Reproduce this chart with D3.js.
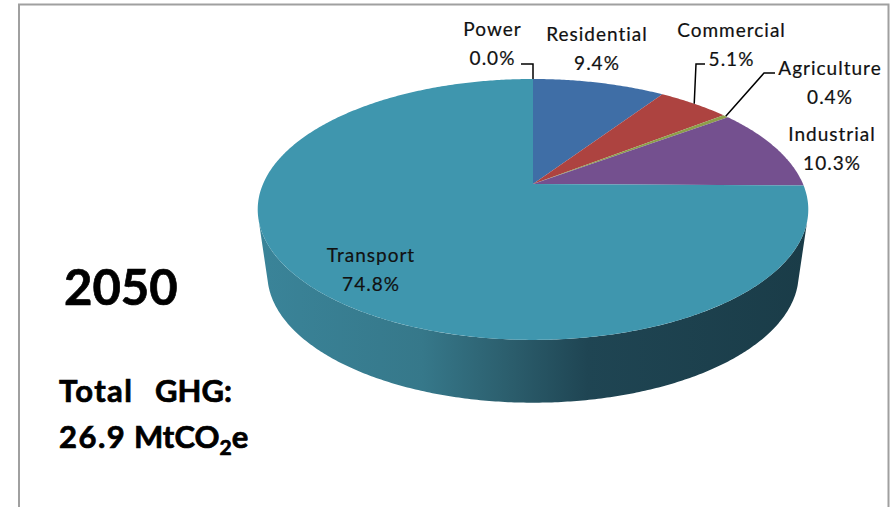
<!DOCTYPE html>
<html>
<head>
<meta charset="utf-8">
<script src="https://cdn.jsdelivr.net/npm/d3@7"></script>
<style>
  html, body { margin: 0; padding: 0; background: #fff; overflow: hidden; }
  text { font-family: Lato, "Open Sans", sans-serif; }
  .sector { fill: #111; stroke: #111; stroke-width: 0.2px; letter-spacing: 1px; }
  .headline { fill: #000; stroke: #000; stroke-width: 0.7px; font-weight: 700; }
</style>
</head>
<body>
<svg id="chart" width="894" height="507"></svg>
<script>
// GHG emissions by sector, 2050
const sectors = ["Power", "Residential", "Commercial", "Agriculture", "Industrial", "Transport"];
const shares = [0.0, 9.4, 5.1, 0.4, 10.3, 74.8];
const shareLabels = ["0.0%", "9.4%", "5.1%", "0.4%", "10.3%", "74.8%"];
const topColors = ["#3a6fa6", "#3f6ea6", "#ad4340", "#8d9f4a", "#74508f", "#3f96ae"];
const yearLabel = "2050";
const totalLabel = "26.9";

const svg = d3.select("#chart");
const defs = svg.append("defs");

// Perspective projection of the pie's unit disc onto the page
const disc = { x0: 533, y0: 184, bx: 270, ay: 125.5, k: 0.195 };
const floor = { x0: 533, y0: 253, bx: 262, ay: 125, k: 0.165 };
function project(p, angle, r = 1) {
  const u = r * Math.sin(angle), v = r * Math.cos(angle), w = 1 + p.k * v;
  return [p.x0 + p.bx * u / w, p.y0 - p.ay * v / w];
}
const line = d3.line();
function arcPoints(p, a0, a1) {
  const n = Math.max(2, Math.ceil((a1 - a0) / 0.01));
  return d3.range(n + 1).map(i => project(p, a0 + (a1 - a0) * i / n));
}

const slices = d3.pie().sort(null).value(d => d)(shares);

// Frame around the chart area
svg.append("path")
  .attr("d", "M19,507V4.5H888.5V507")
  .attr("fill", "none").attr("stroke", "#a0a0a0").attr("stroke-width", 2);

// Side wall shading, lit from the left
const wallShade = defs.append("linearGradient").attr("id", "wallShade")
  .attr("gradientUnits", "userSpaceOnUse")
  .attr("x1", 257).attr("x2", 808).attr("y1", 0).attr("y2", 0);
[[0, "#3a8499"], [0.3, "#36788a"], [0.45, "#2c5f6e"], [0.6, "#1f4553"], [1, "#1a3c48"]]
  .forEach(([o, c]) => wallShade.append("stop").attr("offset", o).attr("stop-color", c));

// The visible wall spans the front half of the disc
const wallStart = Math.PI * 0.58, wallEnd = Math.PI * 1.42;
const wallPath = arcPoints(disc, wallStart, wallEnd)
  .concat(arcPoints(floor, wallStart, wallEnd).reverse());
svg.append("path").attr("d", line(wallPath) + "Z").attr("fill", "url(#wallShade)");

// Top face of each sector
const apex = project(disc, 0, 0);
svg.append("g").selectAll("path")
  .data(slices.filter(d => d.value > 0))
  .join("path")
  .attr("d", d => line([apex, ...arcPoints(disc, d.startAngle, d.endAngle)]) + "Z")
  .attr("fill", d => topColors[d.index]);

// Leader lines for the three small sectors
const leaderTo = i => project(disc, (slices[i].startAngle + slices[i].endAngle) / 2);
const leaders = [
  [0, [[521, 64], [533, 64]]],
  [2, [[705, 64], [696, 64]]],
  [3, [[775, 73], [764, 73]]]
];
svg.append("g").selectAll("path").data(leaders).join("path")
  .attr("d", ([i, bend]) => line([...bend, leaderTo(i)]))
  .attr("fill", "none").attr("stroke", "#000").attr("stroke-width", 1.5);

// Sector labels
const labelSpots = [[492.5, 36], [597, 41], [731.5, 37], [830, 75], [832, 141], [371, 262]];
const labels = svg.append("g").selectAll("text")
  .data(sectors).join("text")
  .attr("class", "sector")
  .attr("text-anchor", "middle")
  .attr("font-size", 19)
  .attr("x", (d, i) => labelSpots[i][0])
  .attr("y", (d, i) => labelSpots[i][1]);
labels.append("tspan").text(d => d);
labels.append("tspan")
  .attr("x", (d, i) => labelSpots[i][0])
  .attr("dy", 28.5)
  .text((d, i) => shareLabels[i]);

// Year and total
svg.append("text").attr("class", "headline").attr("x", 64).attr("y", 305)
  .attr("font-size", 49).text(yearLabel);
const totalHead = svg.append("text").attr("class", "headline").attr("y", 402).attr("font-size", 31);
totalHead.append("tspan").attr("x", 59).attr("letter-spacing", 1.4).text("Total");
totalHead.append("tspan").attr("x", 155).text("GHG:");
const total = svg.append("text").attr("class", "headline").attr("y", 448).attr("font-size", 31);
total.append("tspan").attr("x", 59).attr("letter-spacing", 1.5).text(totalLabel);
total.append("tspan").attr("x", 134).text("MtCO");
total.append("tspan").attr("font-size", 21).attr("dy", 7).text("2");
total.append("tspan").attr("dy", -7).text("e");
</script>
</body>
</html>
